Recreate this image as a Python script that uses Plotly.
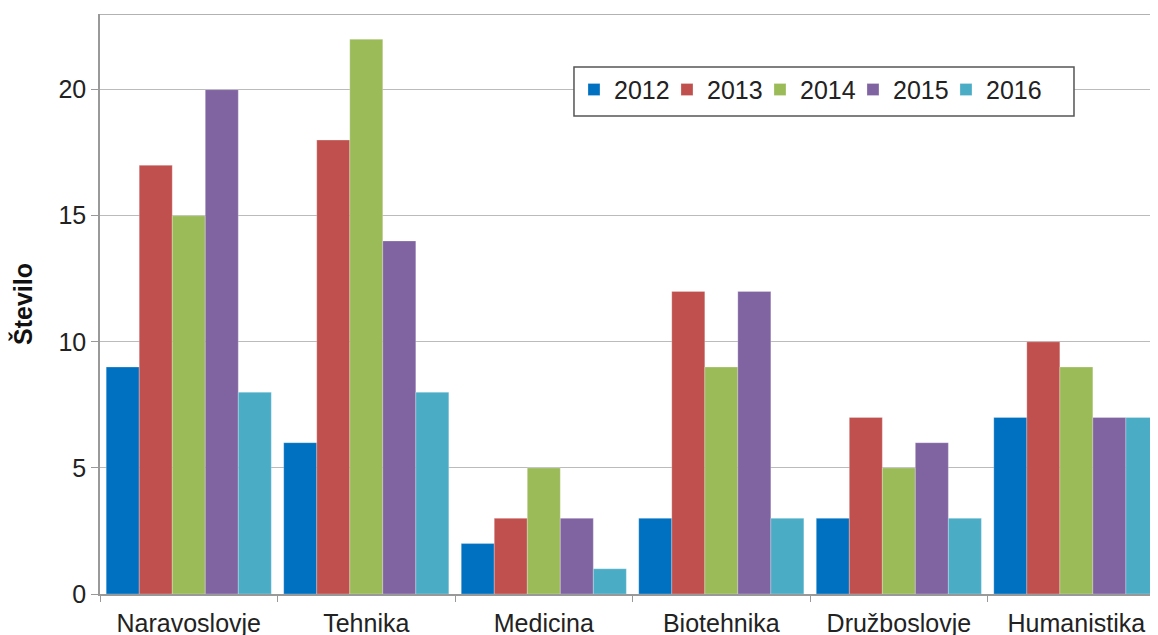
import plotly.graph_objects as go

categories = ["Naravoslovje", "Tehnika", "Medicina", "Biotehnika", "Družboslovje", "Humanistika"]
years = ["2012", "2013", "2014", "2015", "2016"]
v2012 = [9, 6, 2, 3, 3, 7]
v2013 = [17, 18, 3, 12, 7, 10]
v2014 = [15, 22, 5, 9, 5, 9]
v2015 = [20, 14, 3, 12, 6, 7]
v2016 = [8, 8, 1, 3, 3, 7]
series = [v2012, v2013, v2014, v2015, v2016]
colors = ["#0070C0", "#C0504D", "#9BBB59", "#8064A2", "#4BACC6"]

fig = go.Figure()
for y, vals, c in zip(years, series, colors):
    fig.add_trace(go.Bar(x=categories, y=vals, name=y,
                         marker=dict(color=c, line=dict(color="rgba(255,255,255,0.5)", width=0.5))))
# invisible spacer entry so the last legend label is not clipped
fig.add_trace(go.Scatter(x=[None], y=[None], mode="markers", name=" ",
                         marker=dict(color="rgba(0,0,0,0)"), hoverinfo="skip"))

font = "Liberation Sans, Arial, sans-serif"
fig.update_layout(
    width=1150, height=627,
    margin=dict(l=92, r=0, t=6, b=41, autoexpand=False),
    plot_bgcolor="white", paper_bgcolor="white",
    barmode="group", bargap=0.07, bargroupgap=0,
    font=dict(family=font, size=25, color="#222"),
    showlegend=True,
    legend=dict(orientation="h", x=0.448, y=0.909, xanchor="left", yanchor="top",
                borderwidth=0, bgcolor="rgba(0,0,0,0)",
                font=dict(size=25, color="#222"),
                entrywidth=48, entrywidthmode="pixels", traceorder="normal"),
    xaxis=dict(range=[-0.5, 5.46], showline=True, linecolor="#999", linewidth=1.5,
               ticks="outside", tickson="boundaries", ticklen=6, tickcolor="#999",
               ticklabelstandoff=6,
               showgrid=False, tickfont=dict(size=25, color="#222")),
    yaxis=dict(range=[0, 23], tickvals=[0, 5, 10, 15, 20], showline=True, linecolor="#999", linewidth=1.5,
               ticks="outside", ticklen=7, tickcolor="#999", showgrid=True, gridcolor="#BBB", gridwidth=1,
               zeroline=False, tickfont=dict(size=25, color="#222"),
               title=dict(text="<b>Število</b>", font=dict(size=25, color="#111"), standoff=22)),
)
fig.add_shape(type="line", xref="paper", yref="y", x0=0, x1=1, y0=23, y1=23,
              line=dict(color="#999", width=1.5))
fig.add_shape(type="rect", xref="paper", yref="paper", x0=0.448, x1=0.9206, y0=0.824, y1=0.9086,
              fillcolor="white", line=dict(color="#555", width=1.5), layer="above")
fig.write_html("out.html")
